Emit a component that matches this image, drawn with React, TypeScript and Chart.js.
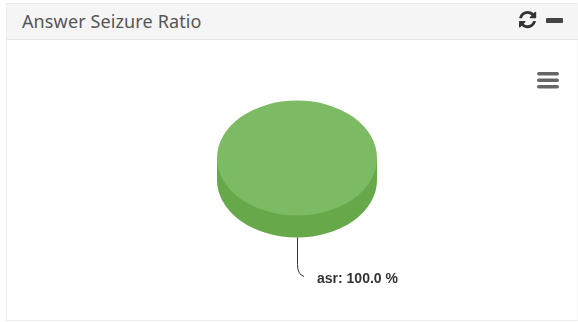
import React, { useEffect, useRef } from "react";
import { Chart, registerables } from "chart.js";

Chart.register(...registerables);

const categories = ["asr"];
const seriesValues = [100.0];
const panelTitle = "Answer Seizure Ratio";

const TOP_COLOR = "#7cbb63";
const SIDE_COLOR = "#67a84a";
const TILT = 57.5 / 80;
const DEPTH = 22;

// Squashes the pie into an ellipse, extrudes its rim and adds the leader label.
const tiltedPie = {
  id: "tiltedPie",
  beforeDatasetsDraw(chart: any) {
    const arc = chart.getDatasetMeta(0).data[0];
    const { x, y, outerRadius } = arc;
    const ctx = chart.ctx;
    const ry = outerRadius * TILT;
    ctx.save();
    ctx.fillStyle = SIDE_COLOR;
    ctx.beginPath();
    ctx.ellipse(x, y + DEPTH, outerRadius, ry, 0, 0, Math.PI);
    ctx.lineTo(x - outerRadius, y);
    ctx.lineTo(x + outerRadius, y);
    ctx.closePath();
    ctx.fill();
    ctx.restore();
    ctx.save();
    ctx.translate(0, y);
    ctx.scale(1, TILT);
    ctx.translate(0, -y);
  },
  afterDatasetsDraw(chart: any) {
    const ctx = chart.ctx;
    ctx.restore();
    const arc = chart.getDatasetMeta(0).data[0];
    const { x, y, outerRadius } = arc;
    const startY = y + outerRadius * TILT + DEPTH;
    ctx.save();
    ctx.strokeStyle = "#333333";
    ctx.lineWidth = 1;
    ctx.beginPath();
    ctx.moveTo(x + 0.5, startY);
    ctx.lineTo(x + 0.5, startY + 27);
    ctx.quadraticCurveTo(x + 0.5, startY + 37, x + 7, startY + 39);
    ctx.stroke();
    ctx.fillStyle = "#333333";
    ctx.font = "bold 14px 'Liberation Sans'";
    ctx.textAlign = "left";
    ctx.textBaseline = "middle";
    ctx.fillText(
      `${categories[0]}: ${seriesValues[0].toFixed(1)} %`,
      x + 20,
      startY + 41.5
    );
    ctx.restore();
  },
};

const REFRESH_PATH =
  "M1639 1056q0 5-1 7-64 268-268 434.5t-478 166.5q-146 0-282.5-55t-243.5-157l-129 129q-19 19-45 19t-45-19-19-45v-448q0-26 19-45t45-19h448q26 0 45 19t19 45-19 45l-137 137q71 66 161 102t187 36q134 0 250-65t186-179q11-17 53-117 8-23 30-23h192q13 0 22.5 9.5t9.5 22.5zm25-800v448q0 26-19 45t-45 19h-448q-26 0-45-19t-19-45 19-45l138-138q-148-137-349-137-134 0-250 65t-186 179q-11 17-53 117-8 23-30 23h-199q-13 0-22.5-9.5t-9.5-22.5v-7q65-268 270-434.5t480-166.5q146 0 284 55.5t245 156.5l130-129q19-19 45-19t45 19 19 45z";

export default function App() {
  const canvasRef = useRef<HTMLCanvasElement>(null);

  useEffect(() => {
    document.body.style.margin = "0";
    document.body.style.background = "#ffffff";
    const chart = new Chart(canvasRef.current as HTMLCanvasElement, {
      type: "pie",
      data: {
        labels: categories,
        datasets: [
          {
            data: seriesValues,
            backgroundColor: [TOP_COLOR],
            borderWidth: 0,
          },
        ],
      },
      options: {
        responsive: false,
        animation: false,
        layout: { padding: { left: 217, right: 201, top: 78, bottom: 84 } },
        plugins: { legend: { display: false }, tooltip: { enabled: false } },
      },
      plugins: [tiltedPie],
    } as any);
    return () => chart.destroy();
  }, []);

  return (
    <div style={{ position: "relative", width: 578, height: 322, overflow: "hidden", background: "#fff" }}>
      <div
        style={{
          position: "absolute",
          left: 6,
          top: 3,
          width: 572,
          height: 318,
          boxSizing: "border-box",
          border: "1px solid #ececec",
          borderRight: "1px solid #f6f6f6",
        }}
      />
      <div
        style={{
          position: "absolute",
          left: 7,
          top: 4,
          width: 571,
          height: 36,
          boxSizing: "border-box",
          background: "#f5f5f5",
          borderBottom: "1px solid #e4e4e4",
        }}
      />
      <div
        style={{
          position: "absolute",
          left: 22,
          top: 9,
          fontFamily: "'Noto Sans', sans-serif",
          fontSize: 18,
          lineHeight: "24px",
          letterSpacing: 0.12,
          color: "#555555",
          whiteSpace: "nowrap",
        }}
      >
        {panelTitle}
      </div>
      <canvas ref={canvasRef} width={578} height={322} style={{ position: "absolute", left: 0, top: 0, display: "block" }} />
      <svg width={578} height={322} style={{ position: "absolute", left: 0, top: 0 }}>
        <g transform="translate(519 11) scale(0.0112)">
          <path d={REFRESH_PATH} transform="translate(-128 -128)" fill="#333333" />
        </g>
        <rect x={546} y={18} width={17} height={5} rx={1} fill="#444444" />
        <rect x={537} y={72} width={22} height={3.6} rx={1.8} fill="#666666" />
        <rect x={537} y={78.5} width={22} height={3.6} rx={1.8} fill="#666666" />
        <rect x={537} y={85} width={22} height={3.6} rx={1.8} fill="#666666" />
      </svg>
    </div>
  );
}
